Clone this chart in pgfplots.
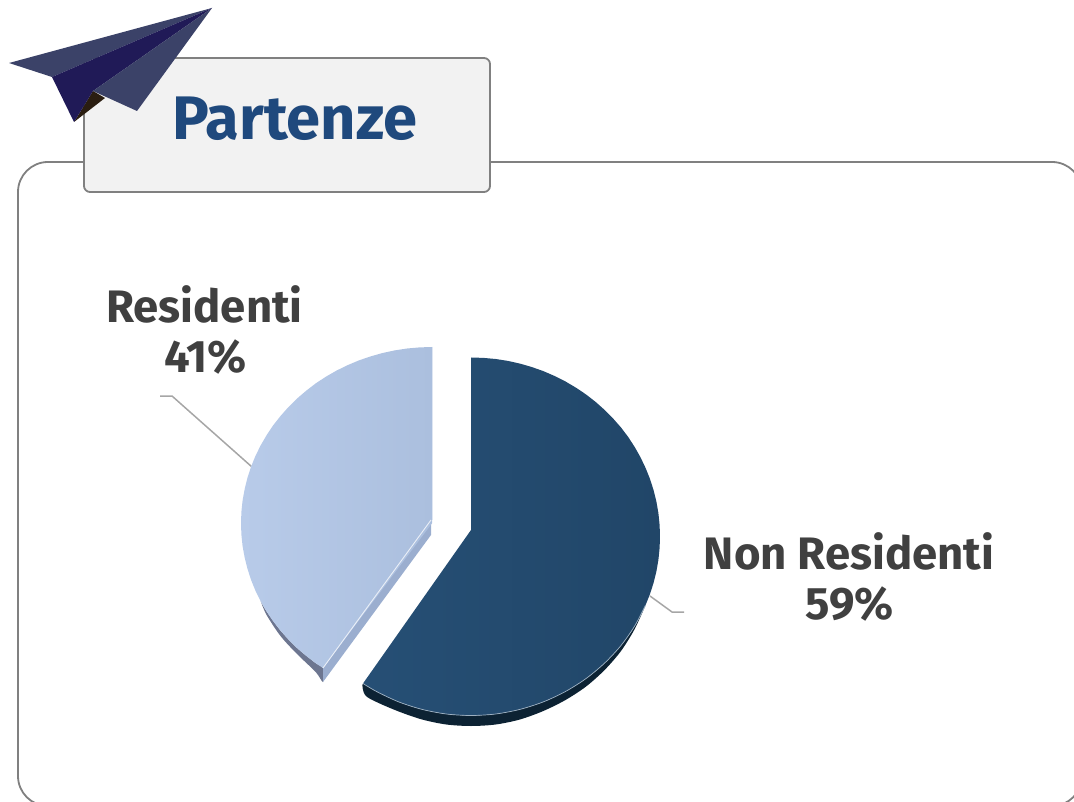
\documentclass[border=0pt]{standalone}
\usepackage{pgfplots}
\usepackage{pgfplotstable}
\usepackage{fontspec}
\pgfplotsset{compat=1.18}
\setmainfont{Fira Sans}
\definecolor{labelc}{HTML}{404040}
\definecolor{titlec}{HTML}{1F497D}
\definecolor{panelc}{HTML}{808080}
\definecolor{boxc}{HTML}{F2F2F2}
\definecolor{leadc}{HTML}{A6A6A6}
\definecolor{wingc}{HTML}{3B4268}
\definecolor{bodyc}{HTML}{201A57}
\definecolor{brownc}{HTML}{2A1D10}
\definecolor{nrA}{HTML}{264F75}
\definecolor{nrB}{HTML}{214668}
\definecolor{nrS}{HTML}{0C2233}
\definecolor{rA}{HTML}{B8CBE9}
\definecolor{rB}{HTML}{ABBFDE}
\definecolor{rS}{HTML}{6D7690}
\definecolor{rC}{HTML}{9BAECF}
\pgfplotstableread{
x y
432 523.3
432 347
419.5 347.4
407.1 348.5
394.7 350.4
382.6 353
370.6 356.4
358.9 360.4
347.5 365.2
336.5 370.6
325.9 376.7
315.7 383.4
306.1 390.8
297 398.6
288.4 407.1
280.5 416
273.2 425.3
266.6 435.2
260.7 445.3
255.5 455.8
251.1 466.6
247.5 477.7
244.7 488.9
242.6 500.3
241.4 511.8
241 523.3
241.4 534.8
242.6 546.3
244.7 557.7
247.5 568.9
251.1 580
255.5 590.8
260.7 601.3
266.6 611.5
273.2 621.3
280.5 630.6
288.4 639.5
297 648
306.1 655.8
315.7 663.2
323 668
432 523.3
}\residenti
\pgfplotstableread{
x y
471 530
471 357.5
483.4 357.9
495.7 359
507.9 360.9
519.9 363.6
531.7 367
543.3 371.1
554.6 376
565.5 381.5
576 387.7
586.1 394.5
595.6 401.9
604.6 409.9
613.1 418.5
621 427.5
628.2 437
634.7 447
640.5 457.3
645.6 468
650 479
653.6 490.2
656.4 501.6
658.4 513.1
659.6 524.8
660 536.5
659.6 548.2
658.4 559.9
656.4 571.4
653.6 582.8
650 594
645.6 605
640.5 615.7
634.7 626
628.2 636
621 645.5
613.1 654.5
604.6 663.1
595.6 671.1
586.1 678.5
576 685.3
565.5 691.5
554.6 697
543.3 701.9
531.7 706
519.9 709.4
507.9 712.1
495.7 714
483.4 715.1
471 715.5
458.6 715.1
446.3 714
434.1 712.1
422.1 709.4
410.3 706
398.7 701.9
387.4 697
376.5 691.5
363 683.5
471 530
}\nonresidenti
\begin{document}
\begin{tikzpicture}
\begin{axis}[
  width=1074pt,height=802pt,scale only axis,hide axis,
  xmin=0,xmax=1074,ymin=0,ymax=802,y dir=reverse,
  clip=true,no marks,
  every axis plot/.append style={forget plot,line join=round}]
% panel
\draw[panelc,line width=1.8pt,rounded corners=30pt] (axis cs:18,806) -- (axis cs:18,162) -- (axis cs:1082,162) -- (axis cs:1082,806) -- cycle;
% title box
\draw[panelc,fill=boxc,line width=1.8pt,rounded corners=6pt] (axis cs:84,58) rectangle (axis cs:490,192);
\node[anchor=base,text=titlec,font=\fontsize{61.5}{61.5}\selectfont\bfseries,inner sep=0pt] at (axis cs:295,140) {Partenze};
% paper plane
\addplot[fill=wingc,draw=none] coordinates {(9,63) (212,8) (52,77) (9,63)};
\addplot[fill=brownc,draw=none] coordinates {(93,91) (105,98) (74,122) (93,91)};
\addplot[fill=bodyc,draw=none] coordinates {(52,77) (212,8) (93,91) (74,122) (52,77)};
\addplot[fill=wingc,draw=none] coordinates {(212,8) (93,91) (137,111) (212,8)};
% leaders
\addplot[leadc,line width=1.5pt] coordinates {(160,396) (172,396) (252,467)};
\addplot[leadc,line width=1.5pt] coordinates {(650,596) (672,612) (684,612)};
% Residenti: sides
\addplot[fill=rS,draw=none,smooth] coordinates {(260.7,601.3) (266.6,611.5) (280.5,630.6) (297,648) (315.7,663.2) (323,668) (323,682) (315.7,672) (297,654) (280.5,636) (266.6,615) (260.7,601.3)};
\addplot[fill=rC,draw=none] coordinates {(323,668) (431,520) (431,535) (323,682) (323,668)};
\addplot[left color=rA,right color=rB,draw=none] table {\residenti};
\addplot[white!75!rB,line width=0.9pt] coordinates {(323,668) (431,520)};
\addplot[white!60!rB,line width=0.7pt] coordinates {(432,347) (432,520)};
% Non Residenti: side
\addplot[fill=nrS,draw=none,smooth] coordinates {(645.6,605) (634.7,626) (621,645.5) (604.6,663.1) (586.1,678.5) (565.5,691.5) (543.3,701.9) (519.9,709.4) (495.7,714) (471,715.5) (446.3,714) (422.1,709.4) (398.7,701.9) (376.5,691.5) (363,683.5) (365,695) (376.5,702) (398.7,711.5) (422.1,719.5) (446.3,724.5) (471,726) (495.7,724.5) (519.9,719.5) (543.3,711) (565.5,700) (586.1,686.5) (604.6,670) (621,651) (634.7,629) (645.6,605)};
\addplot[left color=nrA,right color=nrB,draw=none] table {\nonresidenti};
\addplot[white!55!nrA,line width=0.7pt,smooth] coordinates {(645.6,605) (634.7,626) (621,645.5) (604.6,663.1) (586.1,678.5) (565.5,691.5) (543.3,701.9) (519.9,709.4) (495.7,714) (471,715.5) (446.3,714) (422.1,709.4) (398.7,701.9) (376.5,691.5) (363,683.5)};
% labels
\node[anchor=base,text=labelc,font=\fontsize{45.5}{45.5}\selectfont\bfseries,inner sep=0pt] at (axis cs:849,569) {Non Residenti};
\node[anchor=base,text=labelc,font=\fontsize{45.5}{45.5}\selectfont\bfseries,inner sep=0pt] at (axis cs:849.5,619) {59\%};
\node[anchor=base,text=labelc,font=\fontsize{45.5}{45.5}\selectfont\bfseries,inner sep=0pt] at (axis cs:204.5,322.5) {Residenti};
\node[anchor=base,text=labelc,font=\fontsize{45.5}{45.5}\selectfont\bfseries,inner sep=0pt] at (axis cs:205.5,373) {41\%};
\end{axis}
\path (0,0) rectangle (1074pt,802pt);
\end{tikzpicture}
\end{document}
